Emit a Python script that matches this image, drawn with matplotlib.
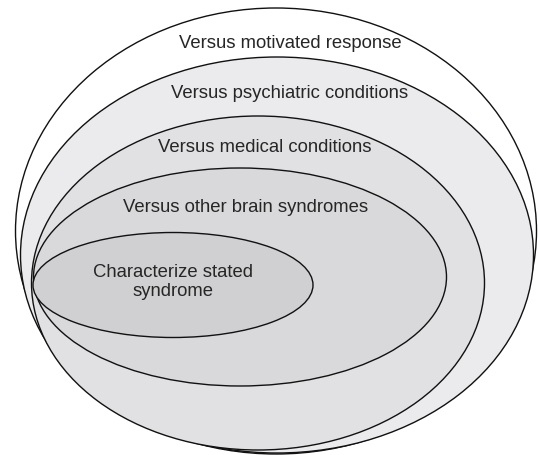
import matplotlib
matplotlib.use("Agg")
import matplotlib.pyplot as plt
from matplotlib.patches import Ellipse

# Nested layers, outermost first
labels = [
    "Versus motivated response",
    "Versus psychiatric conditions",
    "Versus medical conditions",
    "Versus other brain syndromes",
    "Characterize stated\nsyndrome",
]
fills = ["#ffffff", "#ebebed", "#e1e1e3", "#d9d9db", "#d0d0d2"]

# ellipse geometry in pixel space (centre x, centre y, width, height)
cx = [276, 277, 258, 240, 173]
cy = [231, 255, 283, 277, 285]
ew = [521, 513, 453, 413, 280]
eh = [446, 396, 334, 218, 105]

# label anchors
lx = [290, 290, 265, 246, 173]
ly = [43, 93, 148, 207, 282]

fig = plt.figure(figsize=(5.38, 4.55), dpi=100)
ax = fig.add_axes([0, 0, 1, 1])
ax.set_xlim(0, 538)
ax.set_ylim(455, 0)
ax.axis("off")

for i in range(len(labels)):
    ax.add_patch(Ellipse((cx[i], cy[i]), ew[i], eh[i], fc=fills[i],
                         ec="#111111", lw=1.0, zorder=i + 1))
    ax.text(lx[i], ly[i], labels[i], ha="center", va="center",
            fontsize=13.3, family="Liberation Sans", color="#262626",
            linespacing=1.12, zorder=10)

fig.savefig("out.png", dpi=100)
